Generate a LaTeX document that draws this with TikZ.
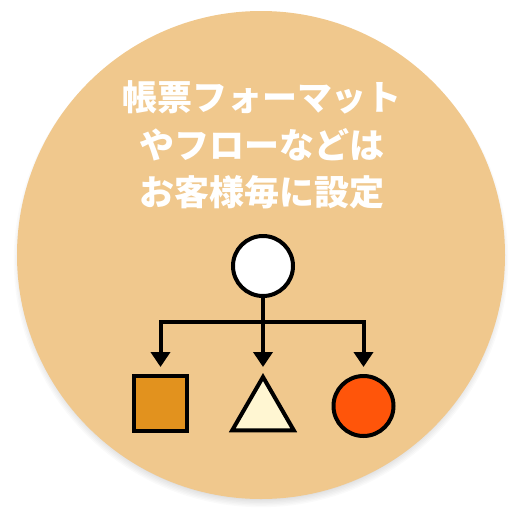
\documentclass[tikz,border=0pt]{standalone}
\usepackage{fontspec}
\newfontfamily\cjk{Noto Sans CJK JP}
\usetikzlibrary{arrows.meta,shapes.geometric}
\definecolor{bgc}{RGB}{240,200,141}
\definecolor{sqc}{RGB}{226,146,30}
\definecolor{tric}{RGB}{255,246,210}
\definecolor{circ}{RGB}{255,85,10}
\tikzset{
  shapebox/.style={draw=black,line width=4pt,inner sep=0pt,outer sep=0pt},
  conn/.style={draw=black,line width=4pt},
  arr/.style={conn,-{Triangle[width=19pt,length=15pt]}},
}
\begin{document}
\begin{tikzpicture}[x=1pt,y=-1pt]
\useasboundingbox (0,0) rectangle (528,528);
\fill[white] (0,0) rectangle (528,528);
% soft shadow
\foreach \i in {1,...,8}{
  \fill[black,opacity=0.018] (261,260) circle ({236+\i*1.4});
}
\fill[bgc] (261,255) coordinate (bgcenter) circle (244);
\node[white,align=center,font=\cjk\bfseries\fontsize{35}{47.5}\selectfont] (title) at (262,145) {帳票フォーマット\\やフローなどは\\お客様毎に設定};
\node[shapebox,circle,fill=white,minimum size=60pt] (top) at (263,266) {};
\node[shapebox,rectangle,fill=sqc,minimum width=53pt,minimum height=55pt] (sq) at (160.5,403.5) {};
\node[shapebox,regular polygon,regular polygon sides=3,fill=tric,minimum size=71pt] (tri) at (263,412.5) {};
\node[shapebox,circle,fill=circ,minimum size=60pt] (rc) at (363.5,406) {};
\coordinate (bus) at (263,322);
\draw[conn] (top.south) -- (bus);
\draw[arr,shorten >=9pt] (bus) -| (sq.north);
\draw[arr,shorten >=9pt] (bus) -| (rc.north);
\draw[arr,shorten >=10pt] (bus) -- (tri.north);
\end{tikzpicture}
\end{document}
